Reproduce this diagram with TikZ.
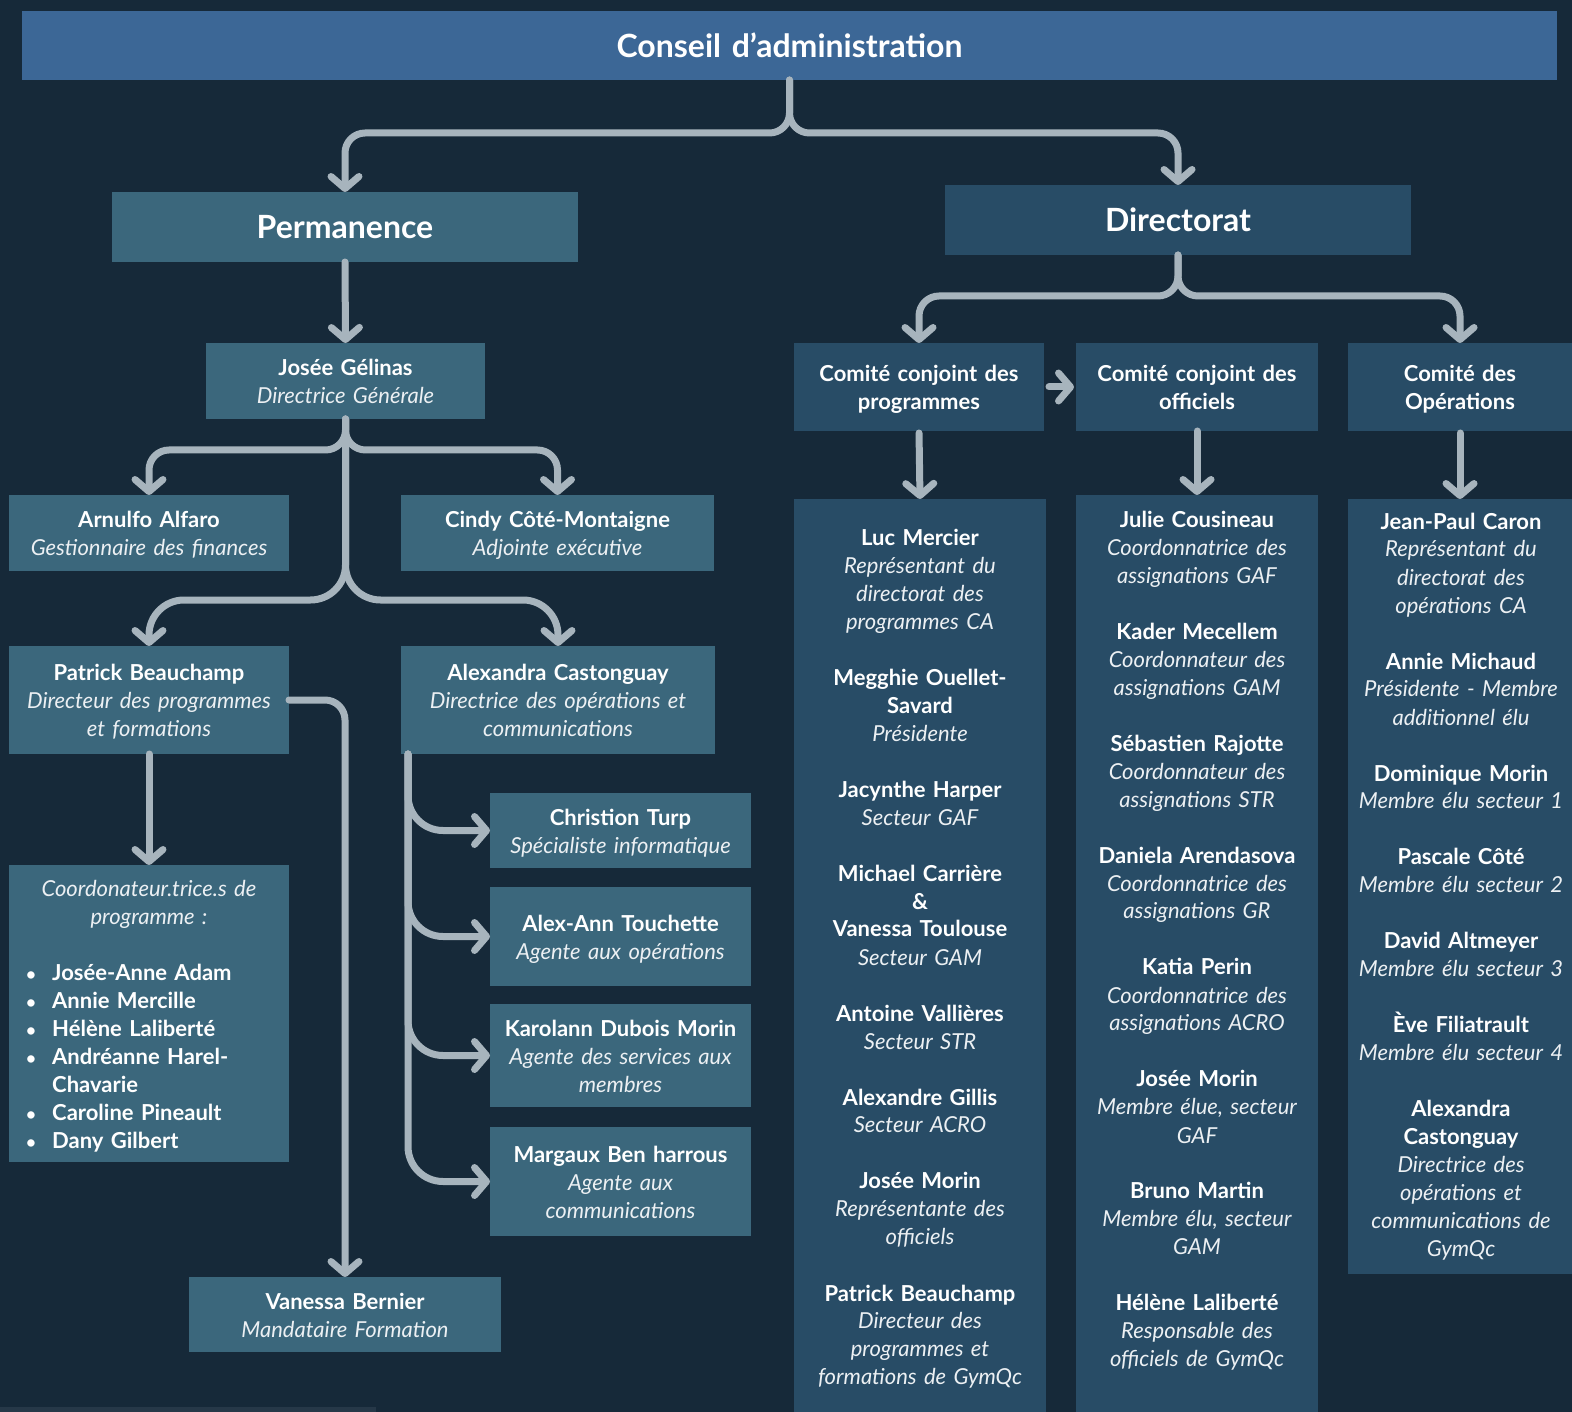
\documentclass[tikz,border=0pt]{standalone}
\usepackage{fontspec}
\setmainfont{Lato}
\usetikzlibrary{arrows.meta,calc}
\definecolor{bgc}{RGB}{22,41,57}
\definecolor{bannerc}{RGB}{60,103,150}
\definecolor{tealc}{RGB}{59,103,124}
\definecolor{dirc}{RGB}{40,76,102}
\definecolor{connc}{RGB}{167,180,189}
\definecolor{stripc}{RGB}{38,56,72}
\definecolor{rolec}{RGB}{236,240,243}
\newcommand\lstrut{\rule[-5.4pt]{0pt}{28pt}}
\newcommand\nm[1]{{\bfseries\lstrut #1}}
\newcommand\rl[1]{{\itshape\color{rolec}\lstrut #1}}
\newcommand\bl[1]{\makebox[26pt][l]{\fontsize{17}{28}\selectfont\bfseries\textbullet}\nm{#1}}
\newcommand\gap{\\[28pt]}
\tikzset{
  boxbase/.style={rectangle, inner sep=0pt, outer sep=0pt, anchor=north west, align=center, text=white, font=\fontsize{22}{28}\selectfont},
  tbox/.style={boxbase, fill=tealc},
  dbox/.style={boxbase, fill=dirc},
  sz/.style 2 args={minimum width=#1, minimum height=#2, text width=#1},
  bigfont/.style={font=\fontsize{32}{36}\selectfont\bfseries},
  conn/.style={draw=connc, line width=7pt, line cap=round, line join=round, rounded corners=20pt},
  arr/.style={conn, -{Straight Barb[length=12pt,width=28pt,round]}},
  mtext/.style={anchor=base, align=center, text=white, inner sep=0pt, font=\fontsize{22}{28}\selectfont}
}
\begin{document}
\begin{tikzpicture}[x=1pt,y=-1pt]
\useasboundingbox (0,0) rectangle (1572,1412);
\fill[bgc] (0,0) rectangle (1572,1412);
\fill[stripc] (0,1407) rectangle (376,1412);

% top
\node[boxbase, fill=bannerc, sz={1535pt}{69pt}, bigfont] (banner) at (22,11) {Conseil d’administration};
\node[tbox, sz={466pt}{70pt}, bigfont] (perm) at (112,192) {Permanence};
\node[dbox, sz={466pt}{70pt}, bigfont] (dir) at (945,185) {Directorat};

% permanence side
\node[tbox, sz={279pt}{76pt}] (josee) at (206,343) {\nm{Josée Gélinas}\\\rl{Directrice Générale}};
\node[tbox, sz={280pt}{76pt}] (arnulfo) at (9,495) {\nm{Arnulfo Alfaro}\\\rl{Gestionnaire des finances}};
\node[tbox, sz={313pt}{76pt}] (cindy) at (401,495) {\nm{Cindy Côté-Montaigne}\\\rl{Adjointe exécutive}};
\node[tbox, sz={280pt}{108pt}] (patrick) at (9,646) {\nm{Patrick Beauchamp}\\\rl{Directeur des programmes}\\\rl{et formations}};
\node[tbox, sz={314pt}{108pt}] (alexandra) at (401,646) {\nm{Alexandra Castonguay}\\\rl{Directrice des opérations et}\\\rl{communications}};
\node[tbox, sz={280pt}{297pt}] (coord) at (9,865) {};
\node[mtext, text width=270pt] (coordhead) at (149,896) {\rl{Coordonateur.trice.s de}\\\rl{programme :}};
\node[mtext, anchor=base west, align=left, text width=260pt] (coordlist) at (26,980) {\bl{Josée-Anne Adam}\\\bl{Annie Mercille}\\\bl{Hélène Laliberté}\\\bl{Andréanne Harel-}\\\hspace*{26pt}\nm{Chavarie}\\\bl{Caroline Pineault}\\\bl{Dany Gilbert}};
\node[tbox, sz={312pt}{75pt}] (vanessa) at (189,1277) {\nm{Vanessa Bernier}\\\rl{Mandataire Formation}};
\node[tbox, sz={261pt}{75pt}] (christion) at (490,793) {\nm{Christion Turp}\\\rl{Spécialiste informatique}};
\node[tbox, sz={261pt}{99pt}] (alexann) at (490,887) {\nm{Alex-Ann Touchette}\\\rl{Agente aux opérations}};
\node[tbox, sz={261pt}{103pt}] (karolann) at (490,1004) {\nm{Karolann Dubois Morin}\\\rl{Agente des services aux}\\\rl{membres}};
\node[tbox, sz={261pt}{109pt}] (margaux) at (490,1127) {\nm{Margaux Ben harrous}\\\rl{Agente aux}\\\rl{communications}};

% directorat side
\node[dbox, sz={250pt}{88pt}] (cprog) at (794,343) {\nm{Comité conjoint des}\\\nm{programmes}};
\node[dbox, sz={242pt}{88pt}] (coff) at (1076,343) {\nm{Comité conjoint des}\\\nm{officiels}};
\node[dbox, sz={224pt}{88pt}] (cops) at (1348,343) {\nm{Comité des}\\\nm{Opérations}};
\node[dbox, sz={252pt}{913pt}] (mprog) at (794,499) {};
\node[dbox, sz={242pt}{917pt}] (moff) at (1076,495) {};
\node[dbox, sz={224pt}{775pt}] (mops) at (1348,499) {};

\node[mtext, text width=250pt] (mprogtxt) at (920,545) {%
\nm{Luc Mercier}\\\rl{Représentant du}\\\rl{directorat des}\\\rl{programmes CA}\gap
\nm{Megghie Ouellet-}\\\nm{Savard}\\\rl{Présidente}\gap
\nm{Jacynthe Harper}\\\rl{Secteur GAF}\gap
\nm{Michael Carrière}\\\nm{\&}\\\nm{Vanessa Toulouse}\\\rl{Secteur GAM}\gap
\nm{Antoine Vallières}\\\rl{Secteur STR}\gap
\nm{Alexandre Gillis}\\\rl{Secteur ACRO}\gap
\nm{Josée Morin}\\\rl{Représentante des}\\\rl{officiels}\gap
\nm{Patrick Beauchamp}\\\rl{Directeur des}\\\rl{programmes et}\\\rl{formations de GymQc}};

\node[mtext, text width=240pt] (mofftxt) at (1197,527) {%
\nm{Julie Cousineau}\\\rl{Coordonnatrice des}\\\rl{assignations GAF}\gap
\nm{Kader Mecellem}\\\rl{Coordonnateur des}\\\rl{assignations GAM}\gap
\nm{Sébastien Rajotte}\\\rl{Coordonnateur des}\\\rl{assignations STR}\gap
\nm{Daniela Arendasova}\\\rl{Coordonnatrice des}\\\rl{assignations GR}\gap
\nm{Katia Perin}\\\rl{Coordonnatrice des}\\\rl{assignations ACRO}\gap
\nm{Josée Morin}\\\rl{Membre élue, secteur}\\\rl{GAF}\gap
\nm{Bruno Martin}\\\rl{Membre élu, secteur}\\\rl{GAM}\gap
\nm{Hélène Laliberté}\\\rl{Responsable des}\\\rl{officiels de GymQc}};

\node[mtext, text width=222pt] (mopstxt) at (1461,529) {%
\nm{Jean-Paul Caron}\\\rl{Représentant du}\\\rl{directorat des}\\\rl{opérations CA}\gap
\nm{Annie Michaud}\\\rl{Présidente - Membre}\\\rl{additionnel élu}\gap
\nm{Dominique Morin}\\\rl{Membre élu secteur 1}\gap
\nm{Pascale Côté}\\\rl{Membre élu secteur 2}\gap
\nm{David Altmeyer}\\\rl{Membre élu secteur 3}\gap
\nm{Ève Filiatrault}\\\rl{Membre élu secteur 4}\gap
\nm{Alexandra}\\\nm{Castonguay}\\\rl{Directrice des}\\\rl{opérations et}\\\rl{communications de}\\\rl{GymQc}};

% connectors
\draw[arr] (banner.south) |- ($(perm.north)+(0,-59)$) -- (perm.north);
\draw[arr] (banner.south) |- ($(dir.north)+(0,-52)$) -- (dir.north);
\draw[arr] (perm.south) -- (josee.north);
\draw[arr] (josee.south) |- ($(arnulfo.north)+(0,-45)$) -- (arnulfo.north);
\draw[arr] (josee.south) |- ($(cindy.north)+(0,-45)$) -- (cindy.north);
\draw[arr, rounded corners=35pt] (josee.south) |- ($(patrick.north)+(0,-46)$) -- (patrick.north);
\draw[arr, rounded corners=35pt] (josee.south) |- ($(alexandra.north)+(0,-46)$) -- (alexandra.north);
\draw[arr] (patrick.south) -- (coord.north);
\draw[arr] (patrick.east) -| (vanessa.north);
\coordinate (asw) at ($(alexandra.south west)+(7,0)$);
\draw[arr, rounded corners=35pt] (asw) |- (christion.west);
\draw[arr, rounded corners=35pt] (asw) |- (alexann.west);
\draw[arr, rounded corners=35pt] (asw) |- (karolann.west);
\draw[arr, rounded corners=35pt] (asw) |- (margaux.west);
\draw[arr] (dir.south) |- ($(cprog.north)+(0,-47)$) -- (cprog.north);
\draw[arr] (dir.south) |- ($(cops.north)+(0,-47)$) -- (cops.north);
\draw[arr, shorten <=5pt, shorten >=2pt] (cprog.east) -- (coff.west);
\draw[arr, shorten <=2pt] (cprog.south) -- (mprog.north);
\draw[arr] (coff.south) -- (moff.north);
\draw[arr, shorten <=2pt] (cops.south) -- (mops.north);
\end{tikzpicture}
\end{document}
